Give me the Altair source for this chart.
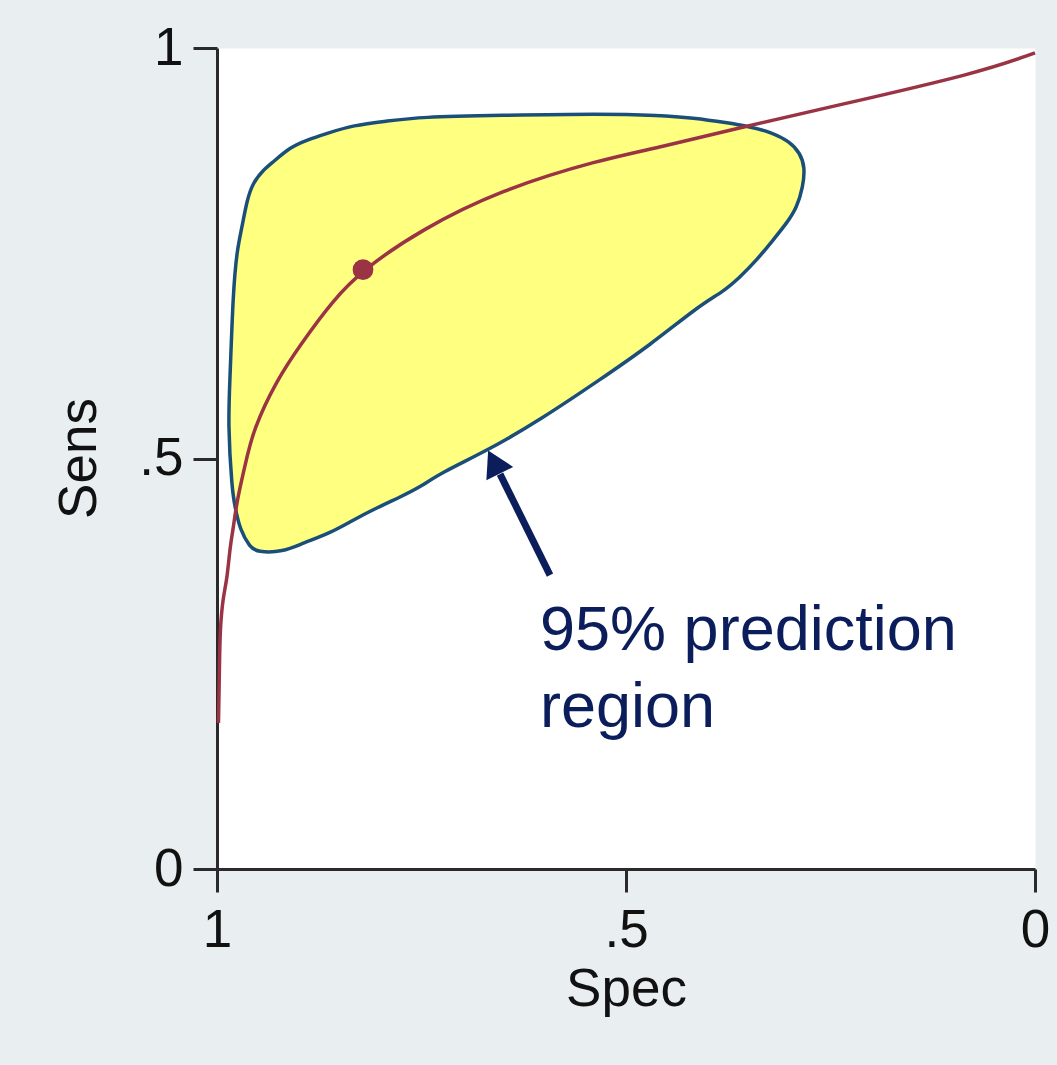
import altair as alt
import pandas as pd

# SROC curve (Spec, Sens)
curve_spec = [0.9982, 0.9969, 0.9963, 0.9927, 0.9878, 0.9841, 0.9804, 0.9756, 0.9660, 0.9560,
              0.9267, 0.8985, 0.8582, 0.8215, 0.7518, 0.6540, 0.5318, 0.4584, 0.3570, 0.2506,
              0.0672, 0.0]
curve_sens = [0.178, 0.251, 0.291, 0.331, 0.352, 0.392, 0.413, 0.449, 0.490, 0.535,
              0.596, 0.638, 0.693, 0.730, 0.778, 0.827, 0.864, 0.879, 0.904, 0.928,
              0.970, 0.994]

# summary point
point_spec = [0.8215]
point_sens = [0.730]

# 95% prediction region outline
region_spec = [0.9866, 0.9841, 0.9804, 0.9756, 0.9694, 0.9633, 0.9560, 0.9438, 0.9315, 0.9108,
               0.8900, 0.8655, 0.8337, 0.7922, 0.7518, 0.6540, 0.5318, 0.4584, 0.4181, 0.3765,
               0.3484, 0.3240, 0.2995, 0.2873, 0.2812, 0.2836, 0.2910, 0.3032, 0.3203, 0.3399,
               0.3606, 0.3814, 0.4095, 0.4707, 0.5318, 0.6051, 0.6687, 0.7274, 0.7518, 0.7763,
               0.8044, 0.8337, 0.8619, 0.8949, 0.9193, 0.9511, 0.9597, 0.9719, 0.9780, 0.9817]
region_sens = [0.543, 0.596, 0.702, 0.754, 0.782, 0.815, 0.836, 0.851, 0.861, 0.879,
               0.888, 0.896, 0.906, 0.911, 0.916, 0.918, 0.920, 0.918, 0.915, 0.909,
               0.904, 0.898, 0.886, 0.872, 0.855, 0.831, 0.806, 0.787, 0.766, 0.742,
               0.721, 0.703, 0.687, 0.638, 0.596, 0.547, 0.510, 0.482, 0.465, 0.453,
               0.440, 0.425, 0.409, 0.397, 0.386, 0.386, 0.392, 0.413, 0.441, 0.462]

tick_values = [0, 0.5, 1]
annotation_lines = ["95% prediction", "region"]

FONT = "Liberation Sans"
RED = "#9a3343"
NAVY = "#0b1e5b"
AXIS = "#2a2a2a"

curve_df = pd.DataFrame({"Spec": curve_spec, "Sens": curve_sens, "i": range(len(curve_spec))})
region_df = pd.DataFrame({"Spec": region_spec, "Sens": region_sens, "i": range(len(region_spec))})
point_df = pd.DataFrame({"Spec": point_spec, "Sens": point_sens})
arrow_df = pd.DataFrame({"Spec": [0.5929], "Sens": [0.358], "Spec2": [0.654], "Sens2": [0.481]})
head_df = pd.DataFrame({"Spec": [0.6614], "Sens": [0.4957]})
text_df = pd.DataFrame({"Spec": [0.6051, 0.6051], "Sens": [0.2667, 0.173], "t": annotation_lines})

xscale = alt.Scale(domain=[0, 1], reverse=True, nice=False, zero=False)
yscale = alt.Scale(domain=[0, 1], nice=False, zero=False)

label_expr = "datum.value == 0 ? '0' : (datum.value == 1 ? '1' : '.5')"

xaxis = alt.Axis(values=tick_values, labelExpr=label_expr, title="Spec", grid=False,
                 tickSize=23, tickWidth=3, tickColor=AXIS, domainColor=AXIS, domainWidth=3,
                 labelFont=FONT, labelFontSize=53, labelColor="#111111", labelPadding=12,
                 labelFlush=False, labelOverlap=False,
                 titleFont=FONT, titleFontSize=53, titleFontWeight="normal", titleColor="#111111",
                 titleBaseline="alphabetic", titleY=136)
yaxis = alt.Axis(values=tick_values, labelExpr=label_expr, title="Sens", grid=False,
                 tickSize=24, tickWidth=3, tickColor=AXIS, domainColor=AXIS, domainWidth=3,
                 labelFont=FONT, labelFontSize=53, labelColor="#111111", labelPadding=10,
                 labelFlush=False, labelOverlap=False, labelBaseline="middle",
                 titleFont=FONT, titleFontSize=53, titleFontWeight="normal", titleColor="#111111",
                 titleBaseline="alphabetic", titleAngle=270, titleX=-122, titleY=410)

region = alt.Chart(region_df).mark_line(
    interpolate="basis-closed", fill="#ffff80", stroke="#1b4f7a", strokeWidth=3.5
).encode(
    x=alt.X("Spec:Q", scale=xscale, axis=xaxis),
    y=alt.Y("Sens:Q", scale=yscale, axis=yaxis),
    order="i:Q",
)

curve = alt.Chart(curve_df).mark_line(
    interpolate="basis", color=RED, strokeWidth=3.5
).encode(
    x=alt.X("Spec:Q", scale=xscale),
    y=alt.Y("Sens:Q", scale=yscale),
    order="i:Q",
)

point = alt.Chart(point_df).mark_circle(size=430, color=RED, opacity=1).encode(
    x=alt.X("Spec:Q", scale=xscale),
    y=alt.Y("Sens:Q", scale=yscale),
)

shaft = alt.Chart(arrow_df).mark_rule(color=NAVY, strokeWidth=7).encode(
    x=alt.X("Spec:Q", scale=xscale),
    y=alt.Y("Sens:Q", scale=yscale),
    x2="Spec2:Q",
    y2="Sens2:Q",
)

head = alt.Chart(head_df).mark_point(
    shape="triangle-up", size=900, filled=True, fill=NAVY, color=NAVY, opacity=1, angle=333.4
).encode(
    x=alt.X("Spec:Q", scale=xscale),
    y=alt.Y("Sens:Q", scale=yscale),
)

text = alt.Chart(text_df).mark_text(
    align="left", baseline="alphabetic", font=FONT, fontSize=63, color=NAVY
).encode(
    x=alt.X("Spec:Q", scale=xscale),
    y=alt.Y("Sens:Q", scale=yscale),
    text="t:N",
)

chart = alt.layer(region, curve, point, shaft, head, text).properties(
    width=818, height=821,
    autosize=alt.AutoSizeParams(type="none"),
    padding={"left": 217, "top": 48, "right": 22, "bottom": 196},
    background="#e9eff1",
).configure_view(stroke="transparent", fill="white")

chart.save("out.html", embed_options={"renderer": "svg", "actions": False})
